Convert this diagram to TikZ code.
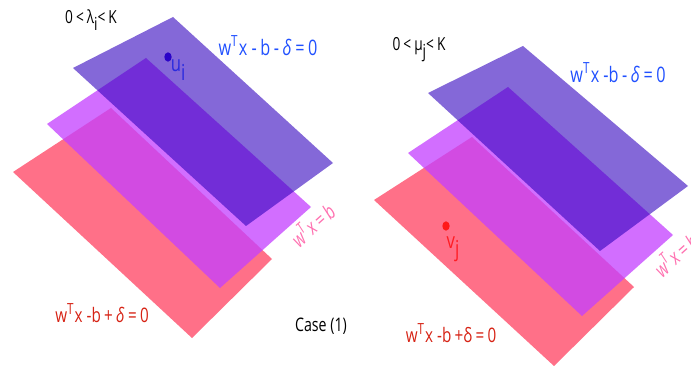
\documentclass[tikz,border=0pt]{standalone}
\usepackage{fontspec}
\setmainfont[FakeStretch=0.76]{Open Sans}
\usepackage{xcolor}
\usetikzlibrary{shapes.geometric}
\definecolor{planeblue}{RGB}{50,3,190}
\definecolor{planemagenta}{RGB}{196,64,255}
\definecolor{planered}{RGB}{255,112,136}
\definecolor{labelblue}{RGB}{32,80,255}
\definecolor{labelred}{RGB}{214,34,20}
\definecolor{labelpink}{RGB}{255,112,176}
\newcommand{\lowtxt}[1]{\raisebox{-0.38em}{#1}}
\newcommand{\hightxt}[1]{\raisebox{0.42em}{\fontsize{11.5}{11.5}\selectfont #1}\kern0.06em}
\newcommand{\dlt}{\textit{δ}}
\tikzset{
	blueplane/.style={fill=planeblue, fill opacity=0.6},
	magentaplane/.style={fill=planemagenta, fill opacity=0.76},
	redplane/.style={fill=planered},
	bluelabel/.style={text=labelblue, font=\fontsize{16}{16}\selectfont, inner sep=0pt},
	redlabel/.style={text=labelred, font=\fontsize{15}{15}\selectfont, inner sep=0pt},
	pinklabel/.style={text=labelpink, font=\fontsize{15.5}{15.5}\itshape\selectfont, inner sep=0pt, rotate=42},
	blacklabel/.style={text=black, font=\fontsize{13.5}{13.5}\selectfont, inner sep=0pt},
	pointdot/.style={ellipse, inner sep=0pt, minimum width=5.5pt, minimum height=7pt}
}

\begin{document}
\begin{tikzpicture}[x=0.75pt, y=-0.75pt]
			\useasboundingbox (0,0) rectangle (691,366);
			% left case
			\fill[redplane] (13,172) -- (111,108) -- (272,259) -- (192,338) -- cycle;
			\fill[magentaplane] (47,124) -- (146,58) -- (311,207) -- (220,288) -- cycle;
			\fill[blueplane] (73,68) -- (173,17) -- (333,163) -- (246,226) -- cycle;
			\node[pointdot, fill=planeblue!85!blue] (ui) at (168,57) {};
			\node[text=planeblue!50!labelblue, font=\fontsize{16.5}{16.5}\selectfont, inner sep=0pt] (uilabel) at (178,70) {u\lowtxt{i}};
			\node[blacklabel] (lambdabound) at (91,20) {0\,<\,λ\lowtxt{i}<\,K};
			\node[bluelabel] (leftblue) at (268,46) {w\hightxt{T}x -\,b\,-\,\dlt\,=\,0};
			\node[pinklabel] (leftpink) at (312,224) {w\hightxt{T}x\,=\,b};
			\node[redlabel] (leftred) at (102,313) {w\hightxt{T}x -b\,+\,\dlt\,=\,0};
			\node[blacklabel, font=\fontsize{14}{14}\selectfont] (caselabel) at (321,326) {Case (1)};
			% right case
			\fill[redplane] (374,200) -- (472,137) -- (634,287) -- (554,366) -- cycle;
			\fill[magentaplane] (408,153) -- (508,87) -- (673,235) -- (582,316) -- cycle;
			\fill[blueplane] (428,93) -- (523,46) -- (688,186) -- (600,251) -- cycle;
			\node[pointdot, fill=red!90!white] (vj) at (446,226) {};
			\node[text=red!75!planered, font=\fontsize{16.5}{16.5}\selectfont, inner sep=0pt] (vjlabel) at (453,249) {v\lowtxt{j}};
			\node[blacklabel] (mubound) at (419,50) {0\,<\,μ\lowtxt{j}<\,K};
			\node[bluelabel] (rightblue) at (618,73) {w\hightxt{T}x -b\,-\,\dlt\,=\,0};
			\node[pinklabel] (rightpink) at (675,254) {w\hightxt{T}x\,=\,b};
			\node[redlabel] (rightred) at (451,333) {w\hightxt{T}x -b\,+δ\,=\,0};
		\end{tikzpicture}
\end{document}
